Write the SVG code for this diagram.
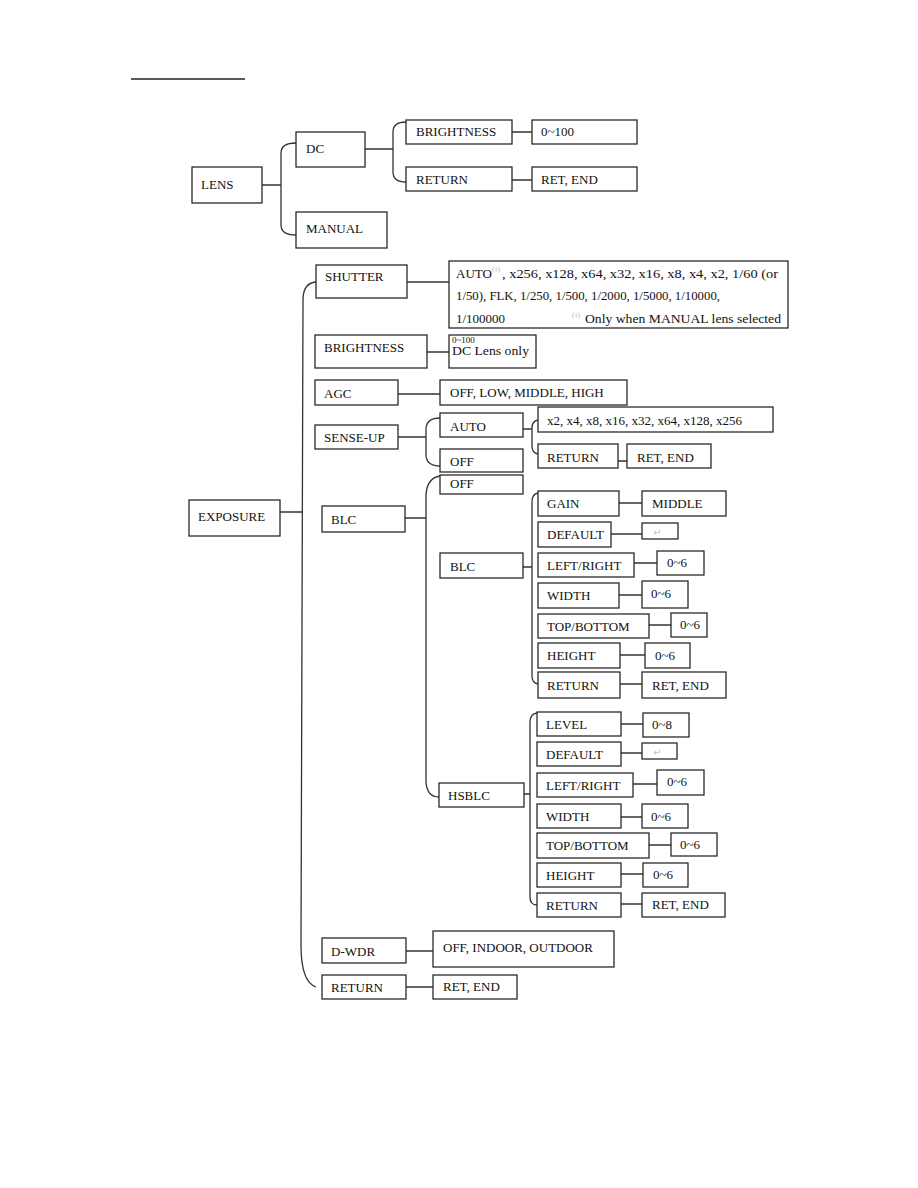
<svg xmlns="http://www.w3.org/2000/svg" width="918" height="1188" viewBox="0 0 918 1188">
<style>
.b{fill:#fff;stroke:#2a2a2a;stroke-width:1.3}
.ln{fill:none;stroke:#333;stroke-width:1.3}
.t{font-family:"Liberation Serif","Times New Roman",serif;font-size:13px;fill:#111}
.s{font-family:"Liberation Serif","Times New Roman",serif;font-size:7px;fill:#aaa}
.g{font-family:"DejaVu Sans",sans-serif;font-size:10px;fill:#c4c4c4}
</style>
<rect width="918" height="1188" fill="#fff"/>
<line x1="131" y1="79" x2="245" y2="79" stroke="#222" stroke-width="1.3"/>
<g id="connectors">
<path class="ln" d="M262,185H281M296,143Q281,143 281,153V225Q281,235 296,235"/>
<path class="ln" d="M365,149H393M406,122Q393,122 393,132V172Q393,182 406,182"/>
<path class="ln" d="M512,132H532M512,180H532"/>
<path class="ln" d="M280,512H302M316,282Q303,283 303,300L301,945Q301,982 316,987"/>
<path class="ln" d="M407,282H449M427,352H449M398,394H440M398,437H426M405,518H426M406,951H433M406,987H433"/>
<path class="ln" d="M440,418Q427,418 426,428V456Q427,466 440,466"/>
<path class="ln" d="M523,429H532M538,420Q532,421 532,428V446Q532,453 538,454M618,461H627"/>
<path class="ln" d="M440,476Q427,478 426,495V782Q427,797 439,797"/>
<path class="ln" d="M523,567H532M538,493Q532,494 532,502V676Q532,683 538,684"/>
<path class="ln" d="M619,503H642M611,534H642M634,563H657M619,595H642M649,625H671M620,655H645M620,684H642"/>
<path class="ln" d="M524,794H530M537,713Q530,714 530,722V897Q530,905 537,905"/>
<path class="ln" d="M621,724H643M621,753H642M633,784H657M621,817H642M649,845H671M621,874H643M621,904H642"/>
</g>
<g id="lens"><rect class="b" x="192" y="167" width="70" height="36"/><text class="t" x="201" y="189">LENS</text></g>
<g id="dc"><rect class="b" x="296" y="132" width="69" height="35"/><text class="t" x="306" y="153">DC</text></g>
<g id="manual"><rect class="b" x="296" y="212" width="91" height="36"/><text class="t" x="306" y="233">MANUAL</text></g>
<g id="dc-brightness"><rect class="b" x="406" y="120" width="106" height="24"/><text class="t" x="416" y="136">BRIGHTNESS</text></g>
<g id="dc-brightness-val"><rect class="b" x="532" y="120" width="105" height="24"/><text class="t" x="541" y="136">0~100</text></g>
<g id="dc-return"><rect class="b" x="406" y="167" width="106" height="24"/><text class="t" x="416" y="184">RETURN</text></g>
<g id="dc-return-val"><rect class="b" x="532" y="167" width="105" height="24"/><text class="t" x="541" y="184">RET, END</text></g>

<g id="exposure"><rect class="b" x="189" y="500" width="91" height="36"/><text class="t" x="198" y="521">EXPOSURE</text></g>
<g id="shutter"><rect class="b" x="316" y="265" width="91" height="33"/><text class="t" x="325" y="281">SHUTTER</text></g>
<g id="shutter-val"><rect class="b" x="449" y="261" width="339" height="67"/>
<text class="t" x="456" y="278">AUTO</text><text class="s" x="492" y="271">(1)</text><text class="t" x="502" y="278" textLength="276" lengthAdjust="spacingAndGlyphs">, x256, x128, x64, x32, x16, x8, x4, x2, 1/60 (or</text>
<text class="t" x="456" y="300" textLength="264" lengthAdjust="spacingAndGlyphs">1/50), FLK, 1/250, 1/500, 1/2000, 1/5000, 1/10000,</text>
<text class="t" x="456" y="323">1/100000</text><text class="s" x="572" y="317">(1)</text><text class="t" x="585" y="323" textLength="196" lengthAdjust="spacingAndGlyphs">Only when MANUAL lens selected</text></g>
<g id="brightness"><rect class="b" x="315" y="335" width="112" height="33"/><text class="t" x="324" y="352">BRIGHTNESS</text></g>
<g id="brightness-val"><rect class="b" x="449" y="335" width="87" height="33"/><text class="t" x="452" y="343" style="font-size:9px">0~100</text><text class="t" x="452" y="355" textLength="77" lengthAdjust="spacingAndGlyphs">DC Lens only</text></g>
<g id="agc"><rect class="b" x="315" y="380" width="83" height="25"/><text class="t" x="324" y="398">AGC</text></g>
<g id="agc-val"><rect class="b" x="440" y="380" width="187" height="25"/><text class="t" x="450" y="397">OFF, LOW, MIDDLE, HIGH</text></g>
<g id="senseup"><rect class="b" x="315" y="425" width="83" height="24"/><text class="t" x="324" y="442">SENSE-UP</text></g>
<g id="su-auto"><rect class="b" x="440" y="413" width="83" height="24"/><text class="t" x="450" y="431">AUTO</text></g>
<g id="su-off"><rect class="b" x="440" y="449" width="83" height="23"/><text class="t" x="450" y="466">OFF</text></g>
<g id="su-auto-val"><rect class="b" x="538" y="407" width="235" height="25"/><text class="t" x="547" y="425">x2, x4, x8, x16, x32, x64, x128, x256</text></g>
<g id="su-return"><rect class="b" x="538" y="444" width="80" height="24"/><text class="t" x="547" y="462">RETURN</text></g>
<g id="su-return-val"><rect class="b" x="627" y="444" width="84" height="24"/><text class="t" x="637" y="462">RET, END</text></g>
<g id="blc"><rect class="b" x="322" y="506" width="83" height="26"/><text class="t" x="331" y="524">BLC</text></g>
<g id="blc-off"><rect class="b" x="440" y="475" width="83" height="19"/><text class="t" x="450" y="488">OFF</text></g>
<g id="blc-blc"><rect class="b" x="440" y="553" width="83" height="25"/><text class="t" x="450" y="571">BLC</text></g>
<g id="blc-gain"><rect class="b" x="538" y="491" width="81" height="25"/><text class="t" x="547" y="508">GAIN</text></g>
<g id="blc-gain-val"><rect class="b" x="642" y="491" width="84" height="25"/><text class="t" x="652" y="508">MIDDLE</text></g>
<g id="blc-default"><rect class="b" x="538" y="522" width="73" height="25"/><text class="t" x="547" y="539">DEFAULT</text></g>
<g id="blc-default-val"><rect class="b" x="642" y="523" width="36" height="16"/><text class="g" x="653" y="536">↵</text></g>
<g id="blc-lr"><rect class="b" x="538" y="553" width="96" height="24"/><text class="t" x="547" y="570">LEFT/RIGHT</text></g>
<g id="blc-lr-val"><rect class="b" x="657" y="551" width="47" height="24"/><text class="t" x="667" y="567">0~6</text></g>
<g id="blc-width"><rect class="b" x="538" y="583" width="81" height="25"/><text class="t" x="547" y="600">WIDTH</text></g>
<g id="blc-width-val"><rect class="b" x="642" y="581" width="46" height="27"/><text class="t" x="651" y="598">0~6</text></g>
<g id="blc-tb"><rect class="b" x="538" y="614" width="111" height="24"/><text class="t" x="547" y="631">TOP/BOTTOM</text></g>
<g id="blc-tb-val"><rect class="b" x="671" y="613" width="36" height="24"/><text class="t" x="680" y="629">0~6</text></g>
<g id="blc-height"><rect class="b" x="538" y="643" width="82" height="25"/><text class="t" x="547" y="660">HEIGHT</text></g>
<g id="blc-height-val"><rect class="b" x="645" y="643" width="45" height="25"/><text class="t" x="655" y="660">0~6</text></g>
<g id="blc-return"><rect class="b" x="538" y="672" width="82" height="26"/><text class="t" x="547" y="690">RETURN</text></g>
<g id="blc-return-val"><rect class="b" x="642" y="672" width="84" height="26"/><text class="t" x="652" y="690">RET, END</text></g>
<g id="hsblc"><rect class="b" x="439" y="783" width="85" height="24"/><text class="t" x="448" y="800">HSBLC</text></g>
<g id="hs-level"><rect class="b" x="537" y="712" width="84" height="24"/><text class="t" x="546" y="729">LEVEL</text></g>
<g id="hs-level-val"><rect class="b" x="643" y="713" width="46" height="24"/><text class="t" x="652" y="729">0~8</text></g>
<g id="hs-default"><rect class="b" x="537" y="742" width="84" height="24"/><text class="t" x="546" y="759">DEFAULT</text></g>
<g id="hs-default-val"><rect class="b" x="642" y="743" width="35" height="16"/><text class="g" x="653" y="756">↵</text></g>
<g id="hs-lr"><rect class="b" x="537" y="773" width="96" height="24"/><text class="t" x="546" y="790">LEFT/RIGHT</text></g>
<g id="hs-lr-val"><rect class="b" x="657" y="770" width="47" height="25"/><text class="t" x="667" y="786">0~6</text></g>
<g id="hs-width"><rect class="b" x="537" y="804" width="84" height="24"/><text class="t" x="546" y="821">WIDTH</text></g>
<g id="hs-width-val"><rect class="b" x="642" y="804" width="46" height="24"/><text class="t" x="651" y="821">0~6</text></g>
<g id="hs-tb"><rect class="b" x="537" y="833" width="112" height="25"/><text class="t" x="546" y="850">TOP/BOTTOM</text></g>
<g id="hs-tb-val"><rect class="b" x="671" y="833" width="46" height="23"/><text class="t" x="680" y="849">0~6</text></g>
<g id="hs-height"><rect class="b" x="537" y="863" width="84" height="24"/><text class="t" x="546" y="880">HEIGHT</text></g>
<g id="hs-height-val"><rect class="b" x="643" y="863" width="45" height="24"/><text class="t" x="653" y="879">0~6</text></g>
<g id="hs-return"><rect class="b" x="537" y="893" width="84" height="24"/><text class="t" x="546" y="910">RETURN</text></g>
<g id="hs-return-val"><rect class="b" x="642" y="893" width="83" height="24"/><text class="t" x="652" y="909">RET, END</text></g>
<g id="dwdr"><rect class="b" x="322" y="938" width="84" height="25"/><text class="t" x="331" y="956">D-WDR</text></g>
<g id="dwdr-val"><rect class="b" x="433" y="931" width="181" height="36"/><text class="t" x="443" y="952">OFF, INDOOR, OUTDOOR</text></g>
<g id="exp-return"><rect class="b" x="322" y="975" width="84" height="24"/><text class="t" x="331" y="992">RETURN</text></g>
<g id="exp-return-val"><rect class="b" x="433" y="975" width="84" height="24"/><text class="t" x="443" y="991">RET, END</text></g>
</svg>
